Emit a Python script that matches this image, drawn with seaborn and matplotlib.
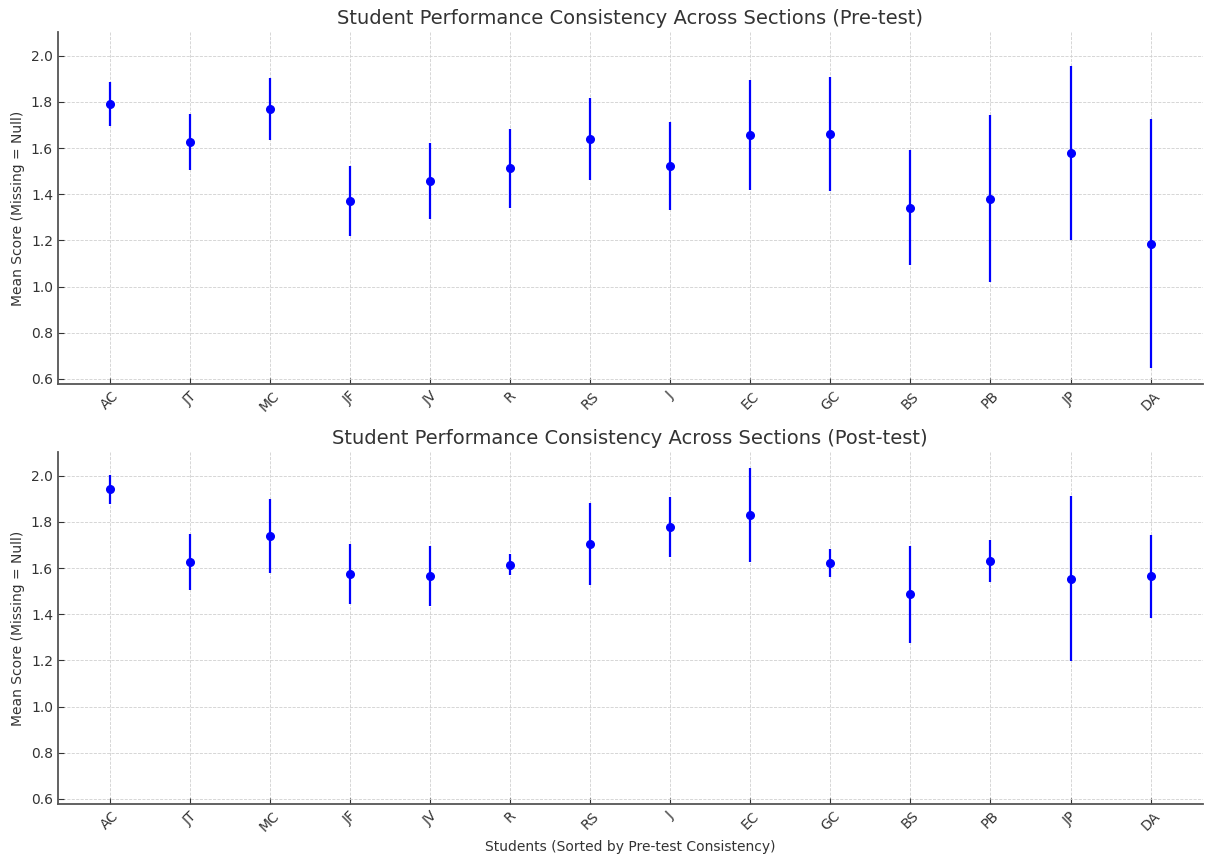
import matplotlib
matplotlib.use("Agg")
import matplotlib.pyplot as plt
import seaborn as sns
import pandas as pd

students = ["AC", "JT", "MC", "JF", "JV", "R", "RS", "J", "EC", "GC", "BS", "PB", "JP", "DA"]
pre_mean = [1.79, 1.627, 1.769, 1.371, 1.458, 1.513, 1.640, 1.523, 1.657, 1.660, 1.341, 1.380, 1.579, 1.186]
pre_err = [0.095, 0.122, 0.135, 0.152, 0.163, 0.171, 0.176, 0.19, 0.24, 0.247, 0.249, 0.362, 0.378, 0.539]
post_mean = [1.941, 1.628, 1.739, 1.574, 1.565, 1.615, 1.704, 1.779, 1.831, 1.622, 1.487, 1.632, 1.555, 1.565]
post_err = [0.062, 0.122, 0.162, 0.13, 0.129, 0.046, 0.179, 0.13, 0.203, 0.06, 0.21, 0.092, 0.358, 0.179]

sns.set_style("whitegrid", {
    "grid.linestyle": "--",
    "grid.color": "#d0d0d0",
    "axes.edgecolor": "#555555",
    "axes.labelcolor": "#333333",
    "text.color": "#333333",
    "xtick.color": "#333333",
    "ytick.color": "#333333",
    "xtick.direction": "in",
    "ytick.direction": "in",
    "xtick.bottom": True,
    "ytick.left": True,
})
plt.rcParams["font.family"] = ["DejaVu Sans"]
plt.rcParams["grid.linewidth"] = 0.6

fig, axes = plt.subplots(2, 1, sharey=True, figsize=(12.05, 8.58), dpi=100)
fig.subplots_adjust(left=0.048, right=0.998, bottom=0.0629, top=0.9627, hspace=0.193)

panels = [
    (axes[0], pre_mean, pre_err, "Student Performance Consistency Across Sections (Pre-test)"),
    (axes[1], post_mean, post_err, "Student Performance Consistency Across Sections (Post-test)"),
]
for ax, m, e, title in panels:
    df = pd.DataFrame({"Student": students, "Mean": m, "Err": e})
    ax.errorbar(df["Student"], df["Mean"], yerr=df["Err"], fmt="o", color="blue",
                ecolor="blue", elinewidth=1.6, markersize=5.5, capsize=0, zorder=3)
    ax.set_title(title, fontsize=14, color="#333333")
    ax.set_ylabel("Mean Score (Missing = Null)", fontsize=10)
    ax.tick_params(axis="x", labelrotation=45, labelsize=10, length=4)
    ax.tick_params(axis="y", labelsize=10, length=4)
    for s in ["top", "right"]:
        ax.spines[s].set_visible(False)
    for s in ["left", "bottom"]:
        ax.spines[s].set_linewidth(1.3)
    ax.grid(True, axis="both")
    ax.set_yticks([0.6, 0.8, 1.0, 1.2, 1.4, 1.6, 1.8, 2.0])

axes[1].set_xlabel("Students (Sorted by Pre-test Consistency)", fontsize=10)

fig.savefig("out.png", dpi=100)
